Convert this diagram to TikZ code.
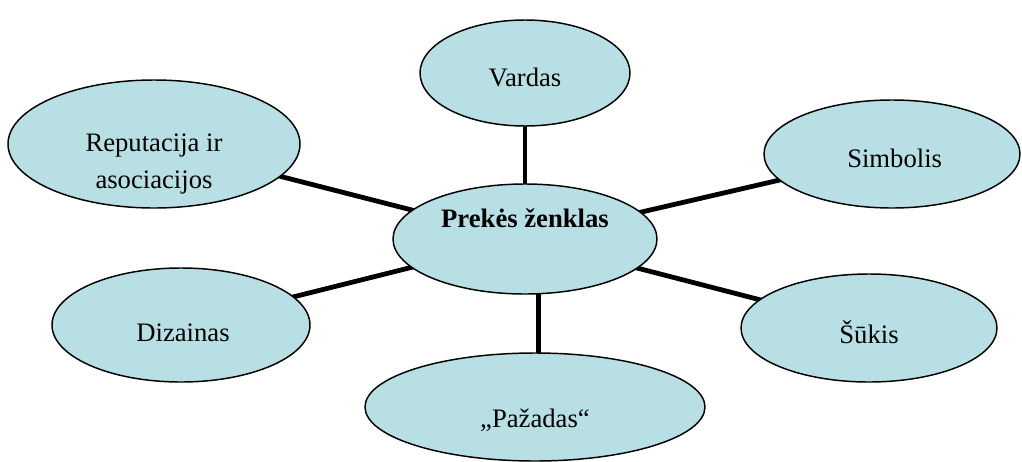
\documentclass[tikz,border=0pt]{standalone}
\usepackage{fontspec}
\setmainfont{Liberation Serif}
\usetikzlibrary{shapes.geometric,backgrounds}
\definecolor{bubblefill}{RGB}{184,223,228}
\begin{document}
\begin{tikzpicture}[x=0.75pt,y=-0.75pt,
  oval/.style n args={2}{ellipse,draw=black,line width=1.1pt,fill=bubblefill,
    inner sep=0pt,minimum width=#1*0.75pt,minimum height=#2*0.75pt},
  txt/.style={font=\fontsize{20}{28}\selectfont,align=center,inner sep=0pt},
  conn/.style={draw=black,line width=3.6pt}]
\useasboundingbox (0,0) rectangle (1022,461);

% central concept
\node[oval={264}{110},label={[txt,yshift=15.75pt]center:{\bfseries Prekės ženklas}}] (brand) at (525,239) {};

% surrounding attributes
\node[oval={210}{106},label={[txt,yshift=-3pt]center:Vardas}] (vardas) at (525,73) {};
\node[oval={256}{108},label={[txt,xshift=2pt,yshift=-3pt]center:Simbolis}] (simb) at (892,154) {};
\node[oval={292}{128},label={[txt,yshift=-15pt]center:Reputacija ir\\asociacijos}] (rep) at (154,144) {};
\node[oval={258}{114},label={[txt,xshift=1.5pt,yshift=-6pt]center:Dizainas}] (diz) at (181,325) {};
\node[oval={256}{108},label={[txt,yshift=-3.5pt]center:Šūkis}] (sukis) at (869,328) {};
\node[oval={340}{108},label={[txt,yshift=-10pt]center:„Pažadas“}] (paz) at (535,407) {};

% spokes behind the ellipses
\begin{scope}[on background layer]
  \draw[conn] (vardas.center) -- (brand.center);
  \draw[conn] (rep.center) -- (brand.center);
  \draw[conn] (simb.center) -- (brand.center);
  \draw[conn] (diz.center) -- (brand.center);
  \draw[conn] (sukis.center) -- (brand.center);
  \draw[conn] ([xshift=2.5pt]paz.center) -- ([xshift=2.5pt]paz.center |- brand.center);
\end{scope}
\end{tikzpicture}
\end{document}
